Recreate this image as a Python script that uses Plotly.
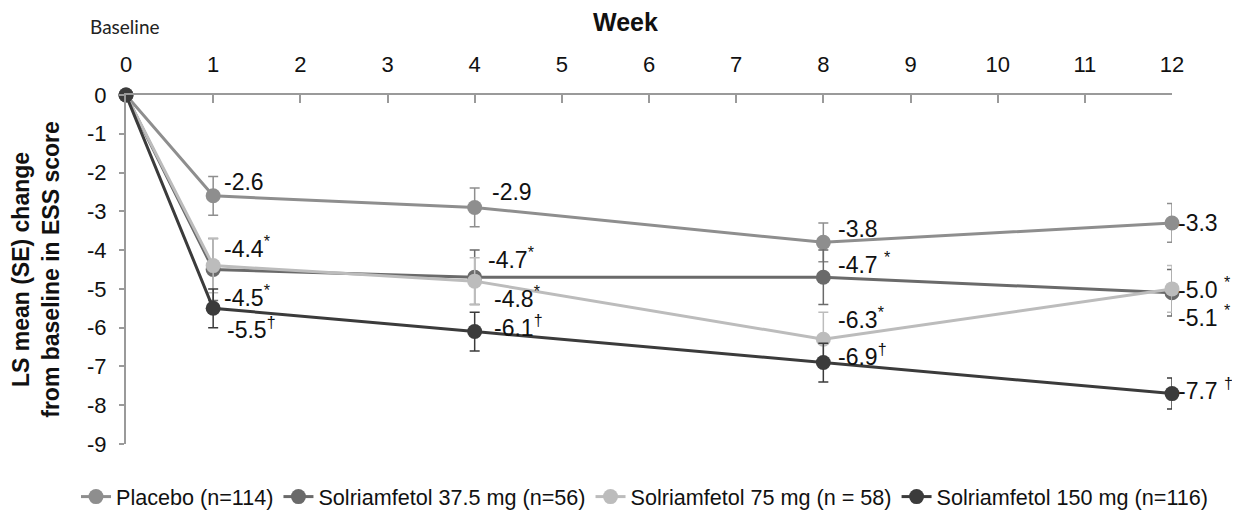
import plotly.graph_objects as go

weeks = [0, 1, 4, 8, 12]
series_names = ["Placebo (n=114)", "Solriamfetol 37.5 mg (n=56)",
                "Solriamfetol 75 mg (n = 58)", "Solriamfetol 150 mg (n=116)"]
placebo = [0, -2.6, -2.9, -3.8, -3.3]
sol_37 = [0, -4.5, -4.7, -4.7, -5.1]
sol_75 = [0, -4.4, -4.8, -6.3, -5.0]
sol_150 = [0, -5.5, -6.1, -6.9, -7.7]
se_placebo = [0, 0.5, 0.5, 0.5, 0.5]
se_37 = [0, 0.8, 0.7, 0.7, 0.6]
se_75 = [0, 0.7, 0.6, 0.7, 0.6]
se_150 = [0, 0.5, 0.5, 0.5, 0.4]
marks_placebo = ["", "", "", "", ""]
marks_37 = ["", "*", "*", " *", " *"]
marks_75 = ["", "*", "*", "*", " *"]
marks_150 = ["", "†", "†", "†", " †"]
x_ticks = list(range(0, 13))
x_ticktext = [str(t) for t in x_ticks]
y_ticks = list(range(-9, 1))
y_ticktext = [str(t) for t in y_ticks]

values = [placebo, sol_37, sol_75, sol_150]
ses = [se_placebo, se_37, se_75, se_150]
marks = [marks_placebo, marks_37, marks_75, marks_150]
colors = ["#8e8e8e", "#6a6a6a", "#bcbcbc", "#3b3b3b"]

# label pixel offsets (dx, dy) per series per week index 1..4
offsets = [
    [(9, 14), (15, 15), (13, 13), (4, 0)],
    [(9, -26), (11, 19), (13, 14), (4, -23)],
    [(9, 19), (17, -16), (13, 21), (4, 1)],
    [(12, -20), (17, 6), (13, 8), (4, 5)],
]

fig = go.Figure()
for name, v, se, c in zip(series_names, values, ses, colors):
    fig.add_trace(go.Scatter(
        x=weeks, y=v, name=name, mode="lines+markers",
        line=dict(color=c, width=3),
        marker=dict(color=c, size=15),
        error_y=dict(type="data", array=se, color=c, thickness=1.5, width=5),
        cliponaxis=False,
    ))

annotations = []
for v, mk, offs in zip(values, marks, offsets):
    for i in range(1, len(weeks)):
        m = mk[i]
        if m:
            sp = " " if m.startswith(" ") else ""
            txt = f"{v[i]:.1f}{sp}<sup>{m.strip()}</sup>"
        else:
            txt = f"{v[i]:.1f}"
        dx, dy = offs[i - 1]
        annotations.append(dict(
            x=weeks[i], y=v[i], xref="x", yref="y", text=txt, showarrow=False,
            xanchor="left", yanchor="middle", xshift=dx, yshift=dy,
            font=dict(family="Liberation Sans, Arial", size=23, color="#111111"),
        ))

annotations.append(dict(
    x=0.478, y=1.0, xref="x domain", yref="paper", yshift=73, text="<b>Week</b>",
    showarrow=False, xanchor="center", yanchor="middle",
    font=dict(family="Liberation Sans, Arial", size=25, color="#111111")))
annotations.append(dict(
    x=0.0, y=1.0, xref="x domain", yref="paper", xshift=-1, yshift=69, text="Baseline",
    showarrow=False, xanchor="center", yanchor="middle",
    font=dict(family="Lato", size=19, color="#222222")))

fig.update_layout(
    width=1240, height=512,
    margin=dict(l=0, r=0, t=87, b=76, autoexpand=False),
    paper_bgcolor="white", plot_bgcolor="white",
    showlegend=True,
    legend=dict(orientation="h", x=0.5137, xanchor="center",
                y=-0.152, yanchor="middle",
                font=dict(family="Liberation Sans, Arial", size=21.6, color="#111111"),
                itemwidth=30, tracegroupgap=0),
    annotations=annotations,
    font=dict(family="Liberation Sans, Arial", color="#111111"),
)
fig.update_xaxes(
    domain=[118 / 1240, 1164 / 1240],
    range=[0, 12], side="top", tickvals=x_ticks, ticktext=x_ticktext,
    ticks="inside", ticklen=8, ticklabelstandoff=12,
    tickcolor="#9a9a9a", tickwidth=1.5, showline=True, linecolor="#9a9a9a", linewidth=2,
    showgrid=False, zeroline=False, tickfont=dict(size=22, color="#111111"),
)
fig.update_yaxes(
    range=[-9, 0], tickvals=y_ticks, ticktext=y_ticktext,
    ticks="outside", ticklen=5, ticklabelstandoff=8,
    tickcolor="#9a9a9a", tickwidth=1.5, showline=True, linecolor="#9a9a9a", linewidth=2,
    showgrid=False, zeroline=False, tickfont=dict(size=22, color="#111111"),
    title=dict(text="<b>LS mean (SE) change<br>from baseline in ESS score</b>",
               font=dict(size=23, color="#111111"), standoff=23),
)

fig.write_html("out.html")
